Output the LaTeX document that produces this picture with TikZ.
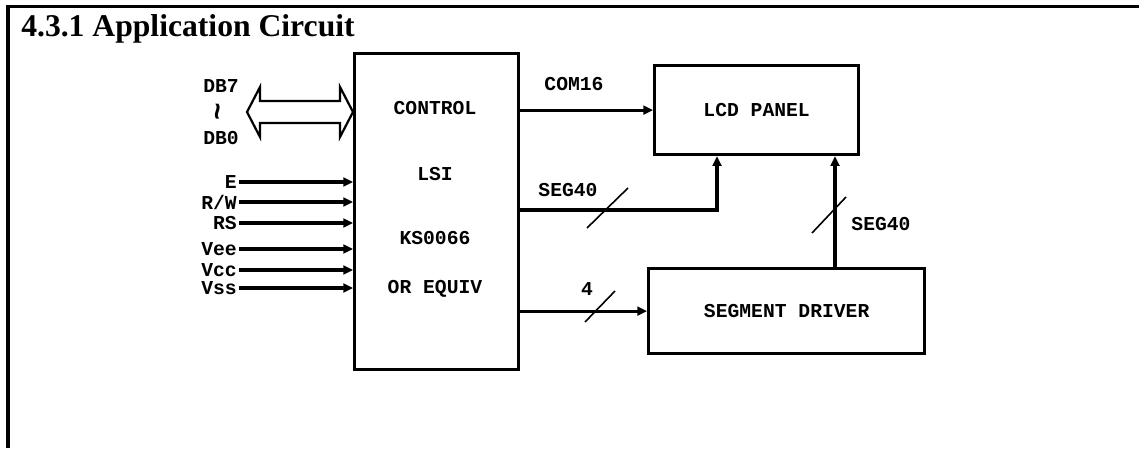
\documentclass[tikz,border=0pt]{standalone}
\usepackage{fontspec}
\setmainfont{Liberation Serif}
\newfontfamily\lcdfont{Liberation Mono}
\usetikzlibrary{arrows.meta}

\tikzset{
  blockbox/.style={draw, line width=0.08cm, anchor=north west, inner sep=0pt,
    font=\lcdfont\bfseries\fontsize{14}{16}\selectfont},
  lbl/.style={font=\lcdfont\bfseries\fontsize{14}{16}\selectfont, inner sep=0pt},
  sigarrow/.style={line width=0.08cm, -{Triangle[length=0.24cm,width=0.22cm]}},
  busmark/.style={line width=0.04cm},
  busarrow/.style={line width=0.055cm, line join=miter},
  frame/.style={line width=0.08cm}
}

\begin{document}
\begin{tikzpicture}[x=0.025cm, y=-0.025cm]
  \useasboundingbox (0,0) rectangle (1139,448);
  % frame and heading
  \draw[frame] (8,448) -- (8,6.5) -- (1139,6.5);
  \node[anchor=base west, inner sep=0pt, font=\bfseries\fontsize{22.5}{26}\selectfont]
    (title) at (21,36) {4.3.1 Application Circuit};

  % blocks
  \node[blockbox, minimum width=4.1cm, minimum height=7.9cm] (ctrl) at (353,52) {};
  \node[blockbox, minimum width=5.1cm, minimum height=2.225cm] (lcd) at (653,64) {LCD PANEL};
  \node[blockbox, minimum width=6.9cm, minimum height=2.125cm] (drv) at (647,267) {SEGMENT DRIVER};
  \foreach \t/\y [count=\i] in {CONTROL/108, LSI/174, KS0066/238, OR EQUIV/289}
    \node[lbl] (ctrl\i) at (435,\y) {\t};

  % data bus
  \draw[busarrow] (247,112) -- (260,87) -- (260,101) -- (340,101) -- (340,87)
    -- (353,112) -- (340,137) -- (340,123) -- (260,123) -- (260,137) -- cycle;
  \node[lbl] (db7) at (221,86) {DB7};
  \node[lbl, rotate=90, font=\lcdfont\bfseries\fontsize{21}{22}\selectfont] (dbto) at (221,112) {\textasciitilde};
  \node[lbl] (db0) at (221,138) {DB0};

  % control inputs
  \foreach \n/\t/\y in {e/E/182, rw/{R/W}/202, rs/RS/223, vee/Vee/249, vcc/Vcc/270, vss/Vss/288} {
    \node[lbl, anchor=east] (\n) at (237,\y) {\t};
    \draw[sigarrow] ([xshift=0.06cm]\n.east) -- (\n.east -| ctrl.west);
  }

  % common lines
  \draw[sigarrow] (ctrl.east |- lcd.west) -- (lcd.west);
  \node[lbl] (com) at (574,84) {COM16};

  % segment lines from controller
  \coordinate (segtap) at (717,210);
  \draw[sigarrow] (ctrl.east |- segtap) -- (segtap) -- (segtap |- lcd.south);
  \draw[busmark] (587,228) -- (628,188);
  \node[lbl] (seg1) at (568,190) {SEG40};

  % 4 bit link to driver
  \draw[sigarrow] (ctrl.east |- drv.west) -- (drv.west);
  \draw[busmark] (585,322) -- (615,291);
  \node[lbl] (four) at (587,289) {4};

  % segment lines from driver
  \coordinate (segret) at (835,267);
  \draw[sigarrow] (segret) -- (segret |- lcd.south);
  \draw[busmark] (812,233) -- (846,197);
  \node[lbl] (seg2) at (881,224) {SEG40};
\end{tikzpicture}
\end{document}
